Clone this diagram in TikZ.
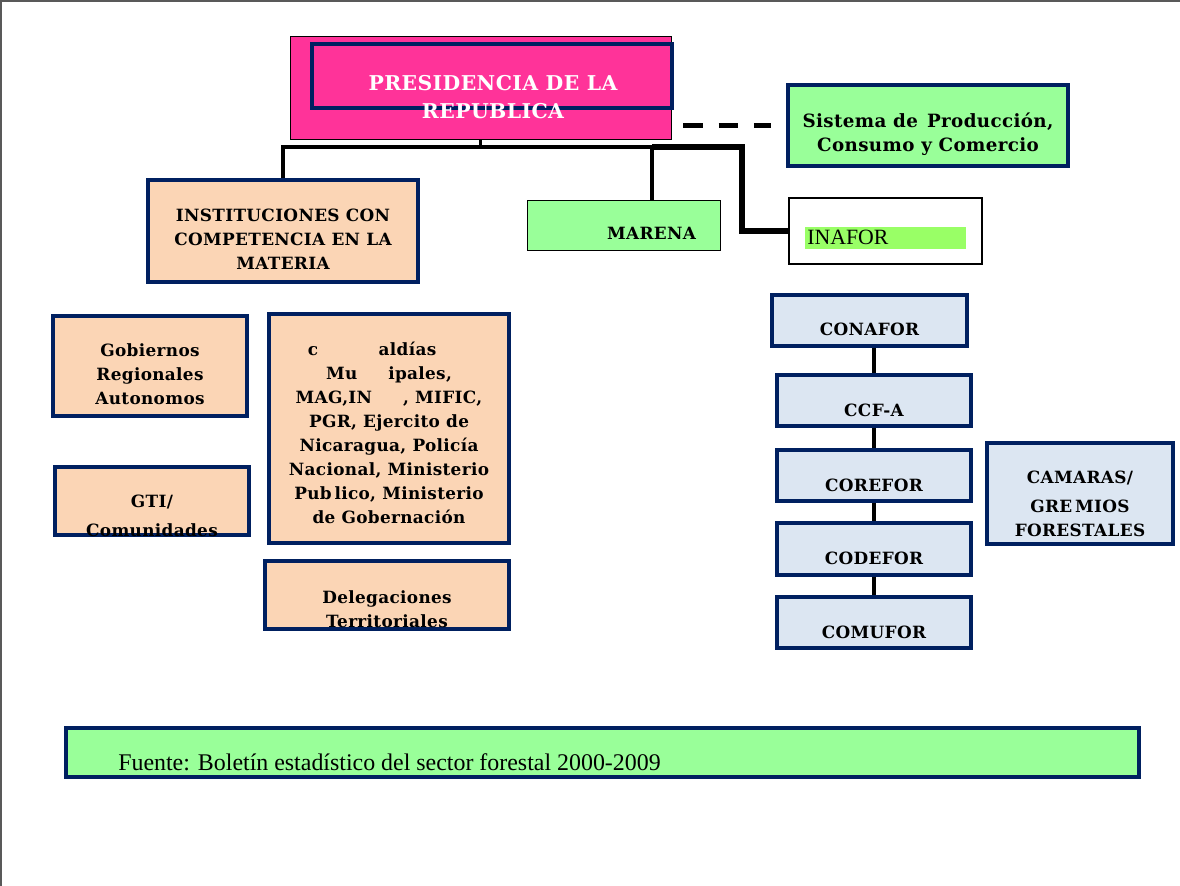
\documentclass[tikz,border=0pt]{standalone}
\usepackage{fontspec}
\setmainfont{Liberation Serif}
\newfontfamily\boxfont{DejaVu Serif}[LetterSpace=2]
\usetikzlibrary{calc}
\definecolor{navy}{RGB}{0,32,96}
\definecolor{rosa}{RGB}{255,51,153}
\definecolor{durazno}{RGB}{251,213,181}
\definecolor{verde}{RGB}{153,255,153}
\definecolor{verdeb}{RGB}{153,255,102}
\definecolor{celeste}{RGB}{220,230,242}
\newcommand{\caja}[6]{\node[draw=navy,line width=2.5pt,fill=#6,minimum width=#4*0.025cm,minimum height=#5*0.025cm](#1) at (#2,#3) {};}

\begin{document}
\begin{tikzpicture}[x=0.025cm,y=-0.025cm,inner sep=0pt,
	txt/.style={font=\boxfont\bfseries\fontsize{12}{17}\selectfont,align=center},
	conn/.style={line width=2.8pt},
	thickconn/.style={line width=4.2pt},
	dashconn/.style={line width=3pt,dash pattern=on 14pt off 11pt}]
		\useasboundingbox (0,0) rectangle (1180,886);
		\draw[gray!70!black,line width=0.8pt] (1,886) -- (1,1) -- (1180,1);

		% presidencia
		\node[draw=black,line width=0.7pt,fill=rosa,minimum width=381*0.025cm,minimum height=103*0.025cm](pres) at (480.5,87.5) {};
		\node[draw=navy,line width=2.5pt,minimum width=360*0.025cm,minimum height=64*0.025cm](presin) at (492,76) {};
		\node[txt,text=white,font=\boxfont\bfseries\fontsize{14.5}{20}\selectfont](pres-t) at (493,97) {PRESIDENCIA DE LA\\REPUBLICA};

		% cajas
		\caja{sis}{928}{125.5}{280}{81}{verde}
		\caja{inst}{283}{231}{270}{102}{durazno}
		\node[draw=black,line width=0.7pt,fill=verde,minimum width=193*0.025cm,minimum height=50*0.025cm](marena) at (623.5,225) {};
		\node[draw=black,line width=1.8pt,fill=white,minimum width=193*0.025cm,minimum height=66*0.025cm](inafor) at (885.5,231) {};
		\node[fill=verdeb,minimum width=161*0.025cm,minimum height=22*0.025cm](inafor-in) at (885.5,238) {};
		\caja{gob}{150}{366}{194}{100}{durazno}
		\caja{gti}{152}{501}{194}{68}{durazno}
		\caja{alc}{389}{428.5}{240}{229}{durazno}
		\caja{del}{387}{595}{244}{68}{durazno}
		\caja{conafor}{869.5}{320.5}{195}{51}{celeste}
		\caja{ccfa}{874}{400.5}{194}{51}{celeste}
		\caja{corefor}{874}{475.5}{194}{51}{celeste}
		\caja{codefor}{874}{549}{194}{52}{celeste}
		\caja{comufor}{874}{622.5}{194}{51}{celeste}
		\caja{camaras}{1080}{493.5}{186}{101}{celeste}
		\node[draw=navy,line width=3pt,fill=verde,minimum width=1073*0.025cm,minimum height=49*0.025cm](fuente) at (602.5,752.5) {};

		% textos
		\node[txt,font=\boxfont\bfseries\fontsize{13}{17}\selectfont](sis-t) at (928,134) {Sistema de\enspace Producción,\\Consumo y Comercio};
		\node[txt](inst-t) at (283,239) {INSTITUCIONES CON\\COMPETENCIA EN LA\\MATERIA};
		\node[txt](marena-t) at (651.5,233) {MARENA};
		\node[anchor=base west,font=\fontsize{15.5}{18}\selectfont](inafor-t) at (807,245) {INAFOR};
		\node[txt](gob-t) at (150,374) {Gobiernos\\Regionales\\Autonomos};
		\node[txt](gti-t) at (152,516) {GTI/\\[3.5pt]Comunidades};
		\node[txt](alc-t) at (389,433) {c\hspace{43pt}aldías\hspace*{24pt}\\Mu\hspace{22pt}ipales,\\MAG,IN\hspace{22pt}, MIFIC,\\PGR, Ejercito de\\Nicaragua, Policía\\Nacional, Ministerio\\Pub\,lico, Ministerio\\de Gobernación};
		\node[txt](del-t) at (387,609) {Delegaciones\\Territoriales};
		\node[txt](conafor-t) at (869.5,329) {CONAFOR};
		\node[txt](ccfa-t) at (874,410) {CCF-A};
		\node[txt](corefor-t) at (874,485) {COREFOR};
		\node[txt](codefor-t) at (874,558) {CODEFOR};
		\node[txt](comufor-t) at (874,632) {COMUFOR};
		\node[txt](camaras-t) at (1080,504) {CAMARAS/\\[3.5pt]GRE\,MIOS\\FORESTALES};
		\node[anchor=base west,font=\fontsize{17}{20}\selectfont](fuente-t) at (118,770) {Fuente: Boletín estadístico del sector forestal 2000-2009};

		% conectores
		\coordinate (j1) at (283,147);
		\coordinate (j2) at (652,147);
		\coordinate (j3) at (742,147);
		\draw[conn] (pres.south) -- (pres.south |- j1);
		\draw[conn] (inst.north) |- (j2) -- (j2 |- marena.north);
		\draw[thickconn] (j2) -- (j3) |- (inafor.west);
		\draw[dashconn] ($(pres.east |- sis.west)+(12,0)$) -- ($(sis.west)+(-15,0)$);
		\draw[conn] (ccfa.north |- conafor.south) -- (ccfa.north);
		\draw[conn] (ccfa) -- (corefor);
		\draw[conn] (corefor) -- (codefor);
		\draw[conn] (codefor) -- (comufor);
	\end{tikzpicture}
\end{document}
